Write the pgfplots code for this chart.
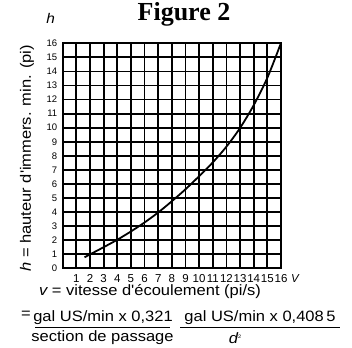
\documentclass[border=0pt]{standalone}
\usepackage{pgfplots}
\pgfplotsset{compat=1.18}
\usepackage{fontspec}
\setmainfont{Liberation Serif}
\newfontfamily\sans{Liberation Sans}[FakeStretch=1.1]
\newfontfamily\sanstick{Liberation Sans}
\begin{document}
\begin{tikzpicture}[x=1pt,y=1pt]
\useasboundingbox (-62.7,-78.7) rectangle (289.3,268.3);
\begin{axis}[at={(0,0)}, anchor=south west,
  width=218.3pt, height=225pt, scale only axis,
  xmin=0, xmax=16, ymin=0, ymax=16,
  xtick={1,...,16}, ytick={0,...,16},
  grid=major, major grid style={black, line width=1.8pt},
  axis line style={line width=2.2pt},
  major tick length=0pt,
  /pgf/number format/assume math mode=true,
  xticklabel style={font=\sanstick\fontsize{11.5}{12}\selectfont, yshift=-3pt},
  yticklabel style={font=\sanstick\fontsize{9.5}{10}\selectfont, xshift=-2pt},
  clip=false]
\addplot[smooth, line width=1.8pt, black] coordinates {
(1.6,0.78) (2,0.99) (3,1.5) (4,2.03) (5,2.62) (6,3.26) (7,3.97) (8,4.77)
(9,5.62) (10,6.55) (11,7.53) (12,8.65) (13,9.98) (14,11.6) (15,13.55) (15.97,15.95)};
\end{axis}
\node[font=\bfseries\fontsize{26}{27}\selectfont] at (121.3,253.8) {Figure 2};
\node[font=\sans\itshape\fontsize{14}{15}\selectfont] at (-12,250) {h};
\node[rotate=90, font=\sans\fontsize{15}{16}\selectfont] at (-35.7,110) {\itshape h\upshape{} = hauteur d'immers. min. (pi)};
\node[font=\sanstick\itshape\fontsize{11.5}{12}\selectfont] at (232.3,-10.7) {V};
\node[font=\sans\fontsize{15}{16}\selectfont] at (87.3,-23.7) {\itshape v\upshape{} = vitesse d'écoulement (pi/s)};
\node[font=\sans\fontsize{15}{16}\selectfont] at (-36.7,-47) {=};
\node[font=\sans\fontsize{15}{16}\selectfont] at (40.3,-49) {gal US/min x 0,321};
\draw[line width=0.9pt] (-27.7,-59) -- (107.3,-59);
\node[font=\sans\fontsize{15}{16}\selectfont] at (39.8,-69.5) {section de passage};
\node[font=\sans\fontsize{15}{16}\selectfont] at (197.3,-49) {gal US/min x 0,408\,5};
\draw[line width=0.9pt] (117.3,-59) -- (277.3,-59);
\node[font=\sans\fontsize{15}{16}\selectfont] at (172.3,-69.5) {\itshape d\upshape\raisebox{0.6ex}{\fontsize{5}{5}\selectfont 2}};
\end{tikzpicture}
\end{document}
